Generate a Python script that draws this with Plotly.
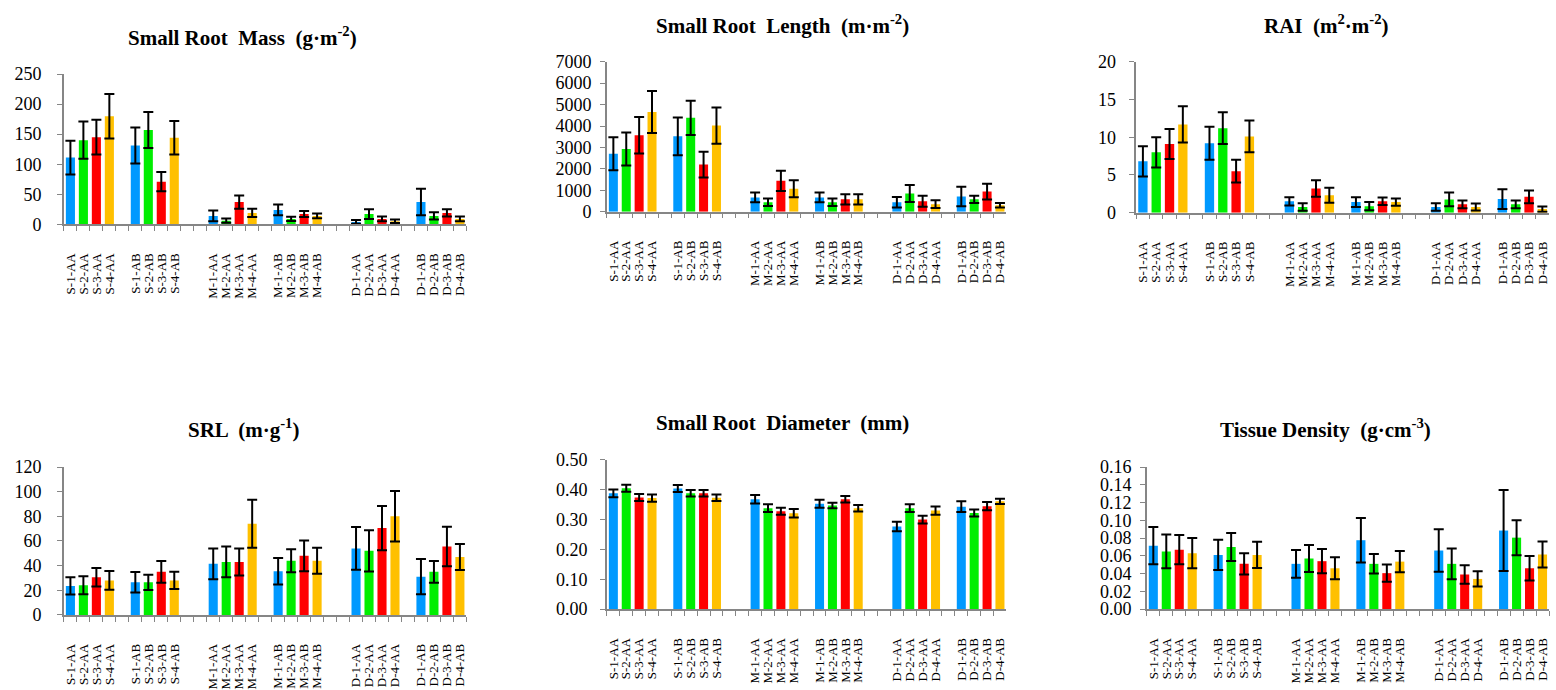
import plotly.graph_objects as go

# ---------------- data ----------------
group_patterns = ["S-{}-AA", "S-{}-AB", "M-{}-AA", "M-{}-AB", "D-{}-AA", "D-{}-AB"]
gaps_after = [1, 2, 1, 2, 1, 0]          # empty category slots after each group
bar_colors = ["#0099FF", "#00EE00", "#FF0000", "#FFC000"]

titles = [
    "Small Root  Mass  (g·m<sup>-2</sup>)",
    "Small Root  Length  (m·m<sup>-2</sup>)",
    "RAI  (m<sup>2</sup>·m<sup>-2</sup>)",
    "SRL  (m·g<sup>-1</sup>)",
    "Small Root  Diameter  (mm)",
    "Tissue Density  (g·cm<sup>-3</sup>)",
]

mass = [111, 140, 145, 180, 131, 157, 71, 144,
        14, 6, 37, 19, 24, 9, 17, 14,
        4, 17, 9, 5, 37, 14, 19, 9]
mass_err = [28, 31, 29, 37, 30, 30, 16, 28,
            9, 3.5, 11, 7, 9, 3.5, 5, 4,
            3, 8, 4, 3, 22, 6, 6, 4]

length = [2700, 2930, 3570, 4650, 3520, 4380, 2200, 4020,
          665, 440, 1440, 1070, 665, 440, 575, 575,
          440, 850, 485, 350, 710, 575, 940, 300]
length_err = [770, 770, 850, 980, 880, 800, 600, 850,
              230, 170, 470, 400, 230, 170, 240, 240,
              240, 400, 257, 180, 460, 170, 370, 100]

rai = [6.8, 8.0, 9.1, 11.7, 9.2, 11.2, 5.5, 10.1,
       1.5, 0.75, 3.2, 2.3, 1.4, 0.86, 1.5, 1.4,
       0.75, 1.76, 1.1, 0.75, 1.8, 1.1, 2.1, 0.47]
rai_err = [2.0, 2.0, 2.0, 2.4, 2.2, 2.1, 1.5, 2.1,
           0.55, 0.5, 1.1, 1.0, 0.65, 0.55, 0.5, 0.48,
           0.5, 0.9, 0.5, 0.47, 1.3, 0.5, 0.85, 0.35]

srl = [23.5, 24, 30.5, 28, 26.5, 26.5, 35, 28,
       41.5, 43, 43, 74, 35.5, 44, 48, 44,
       54, 52, 70.5, 80, 31, 35, 55.5, 47]
srl_err = [7, 7.3, 7.5, 7.6, 8.3, 6.2, 8.8, 7,
           12.5, 12.5, 11, 19.5, 10.8, 9.3, 12.5, 10.6,
           17.3, 16.8, 18, 20.5, 14.3, 8.8, 16, 10.5]

diameter = [0.388, 0.405, 0.374, 0.372, 0.404, 0.388, 0.388, 0.373,
            0.368, 0.338, 0.328, 0.321, 0.353, 0.347, 0.368, 0.338,
            0.277, 0.338, 0.300, 0.330, 0.343, 0.322, 0.345, 0.361]
diameter_err = [0.013, 0.012, 0.012, 0.012, 0.012, 0.011, 0.011, 0.011,
                0.014, 0.013, 0.012, 0.014, 0.013, 0.009, 0.011, 0.011,
                0.016, 0.013, 0.013, 0.014, 0.018, 0.012, 0.014, 0.009]

density = [0.0715, 0.065, 0.067, 0.063, 0.061, 0.070, 0.051, 0.061,
           0.051, 0.057, 0.054, 0.046, 0.0776, 0.051, 0.0405, 0.0535,
           0.066, 0.051, 0.039, 0.034, 0.0885, 0.0805, 0.046, 0.0615]
density_err = [0.021, 0.019, 0.0165, 0.017, 0.017, 0.0157, 0.012, 0.0148,
               0.0157, 0.0153, 0.0137, 0.0124, 0.025, 0.011, 0.0097, 0.012,
               0.024, 0.0173, 0.0104, 0.0086, 0.0457, 0.0197, 0.0139, 0.0146]

values = [mass, length, rai, srl, diameter, density]
errors = [mass_err, length_err, rai_err, srl_err, diameter_err, density_err]
y_max = [250, 7000, 20, 120, 0.5, 0.16]
y_dtick = [50, 1000, 5, 20, 0.1, 0.02]
y_format = ["d", "d", "d", "d", ".2f", ".2f"]

# ---------------- layout geometry (pixels) ----------------
W, H = 1556, 690
geom = [
    # x0, x1, y_top(max), y_bottom(0), title_x, title_y, y label standoff
    (63, 466, 66, 220.7, 242, 27.5, 12),
    (606.7, 1006.7, 53.3, 207.7, 783, 15, 5),
    (1136.7, 1550, 53.3, 208.7, 1327, 15, 10),
    (63, 466, 470.7, 623, 243, 431, 12),
    (606.7, 1006.7, 463.3, 617, 782.5, 425.5, 9),
    (1147.3, 1550, 470.7, 617, 1326.7, 431, 5),
]

# build category slots
cats, slot_idx = [], []
blank_n = 0
for gi, pat in enumerate(group_patterns):
    for k in range(1, 5):
        cats.append(pat.format(k))
        slot_idx.append(len(cats) - 1)
    for _ in range(gaps_after[gi]):
        blank_n += 1
        cats.append(" " * blank_n)

FONT = "Liberation Serif, Times New Roman, serif"
AXIS_GRAY = "#868686"

fig = go.Figure()
annotations = []
for p in range(6):
    ys = [None] * len(cats)
    es = [None] * len(cats)
    cols = ["#ffffff"] * len(cats)
    for j, si in enumerate(slot_idx):
        ys[si] = values[p][j]
        es[si] = errors[p][j]
        cols[si] = bar_colors[j % 4]
    xa = "x" if p == 0 else f"x{p+1}"
    ya = "y" if p == 0 else f"y{p+1}"
    fig.add_trace(go.Bar(
        x=cats, y=ys, width=0.7,
        marker=dict(color=cols, line=dict(width=0)),
        error_y=dict(type="data", array=es, visible=True, color="black",
                     thickness=2, width=5),
        xaxis=xa, yaxis=ya, showlegend=False, hoverinfo="x+y",
    ))
    x0, x1, yt, yb, tx, ty, ystd = geom[p]
    sfx = "" if p == 0 else str(p + 1)
    fig.layout["xaxis" + sfx] = dict(
        domain=[x0 / W, x1 / W], anchor=ya, type="category",
        categoryorder="array", categoryarray=cats,
        tickmode="linear", tick0=0, dtick=1,
        showline=True, linecolor=AXIS_GRAY, linewidth=1.5,
        ticks="outside", tickson="boundaries", ticklen=5, tickcolor=AXIS_GRAY,
        tickangle=-90, tickfont=dict(family=FONT, size=13, color="black"),
        ticklabelstandoff=22, showgrid=False, zeroline=False, fixedrange=True,
    )
    fig.layout["yaxis" + sfx] = dict(
        domain=[1 - yb / H, 1 - yt / H], anchor=xa,
        range=[0, y_max[p]], dtick=y_dtick[p], tickformat=y_format[p],
        showline=True, linecolor=AXIS_GRAY, linewidth=1.5,
        ticks="outside", ticklen=5, tickcolor=AXIS_GRAY,
        tickfont=dict(family=FONT, size=18, color="black"),
        ticklabelstandoff=ystd, showgrid=False, zeroline=False, fixedrange=True,
    )
    annotations.append(dict(
        text="<b>" + titles[p] + "</b>", xref="paper", yref="paper",
        x=tx / W, y=1 - ty / H, xanchor="center", yanchor="middle",
        showarrow=False, font=dict(family=FONT, size=21, color="black"),
    ))

fig.update_layout(
    width=W, height=H, autosize=False,
    margin=dict(l=0, r=0, t=0, b=0),
    paper_bgcolor="white", plot_bgcolor="white",
    annotations=annotations, barmode="group",
)

fig.write_html("out.html")
